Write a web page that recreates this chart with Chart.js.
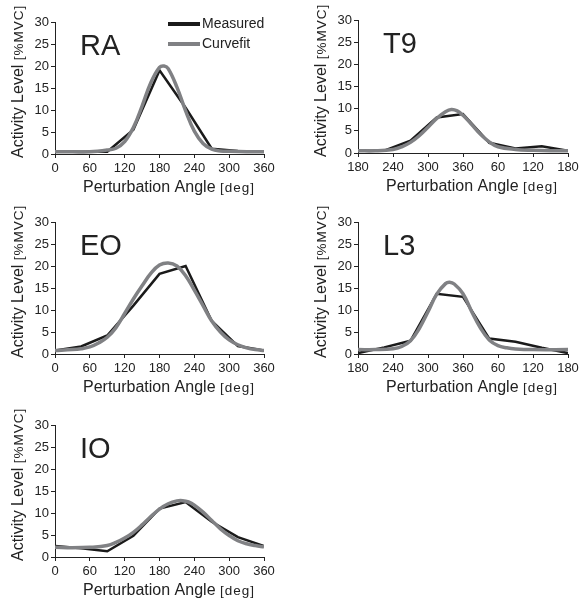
<!DOCTYPE html>
<html>
<head>
<meta charset="utf-8">
<script src="https://cdn.jsdelivr.net/npm/chart.js@4.4.1/dist/chart.umd.min.js"></script>
<style>
  body { margin: 0; background: #fff; }
  #wrap { position: relative; width: 582px; height: 604px; background: #fff; }
  canvas { position: absolute; }
</style>
</head>
<body>
<div id="wrap">
  <canvas id="ra" width="290" height="200" style="left:0;top:0"></canvas>
  <canvas id="t9" width="292" height="200" style="left:290px;top:0"></canvas>
  <canvas id="eo" width="290" height="200" style="left:0;top:200px"></canvas>
  <canvas id="l3" width="292" height="200" style="left:290px;top:200px"></canvas>
  <canvas id="io" width="290" height="204" style="left:0;top:400px"></canvas>
</div>
<script>
// measured points every 45 deg
const measuredAngles = [0, 45, 90, 135, 180, 225, 270, 315, 360];
const measuredAnglesBack = [180, 225, 270, 315, 360, 405, 450, 495, 540]; // back muscles, axis starts at 180

const raMeasured = [0.5, 0.5, 0.5, 5.5, 19, 10.5, 1.2, 0.7, 0.5];
const raFitAngles = [0, 30, 60, 90, 105, 120, 135, 150, 165, 180, 188, 195, 210, 225, 240, 255, 270, 285, 300, 330, 360];
const raFit = [0.5, 0.5, 0.5, 0.9, 1.3, 2.8, 6, 10.9, 16.2, 19.7, 20, 19.4, 15.2, 9.8, 5.2, 2.4, 1.1, 0.7, 0.6, 0.5, 0.5];

const t9Measured = [0.5, 0.5, 2.8, 8, 8.8, 2.3, 1, 1.5, 0.5];
const t9FitAngles = [180, 210, 240, 255, 270, 285, 300, 315, 330, 340, 350, 360, 375, 390, 405, 420, 450, 480, 510, 540];
const t9Fit = [0.5, 0.5, 0.8, 1.4, 2.4, 3.9, 5.8, 7.8, 9.3, 9.8, 9.5, 8.5, 6.4, 4.2, 2.5, 1.4, 0.8, 0.6, 0.5, 0.5];

const eoMeasured = [0.8, 1.7, 4.2, 11, 18.2, 20, 7.5, 1.8, 0.8];
const eoFitAngles = [0, 30, 45, 60, 75, 90, 105, 120, 135, 150, 165, 180, 195, 210, 225, 240, 255, 270, 285, 300, 315, 330, 345, 360];
const eoFit = [0.8, 1, 1.2, 1.6, 2.5, 3.8, 6, 9.2, 12.5, 15.5, 18.3, 20.2, 20.7, 20, 17.8, 14.5, 11, 7.5, 5, 3.2, 2.1, 1.4, 1, 0.8];

const l3Measured = [0.2, 1.5, 3, 13.7, 13, 3.5, 2.8, 1.4, 0.2];
const l3FitAngles = [180, 210, 240, 255, 270, 285, 300, 315, 330, 337, 345, 360, 375, 390, 405, 420, 435, 450, 480, 540];
const l3Fit = [1, 1, 1.2, 1.7, 3, 5.8, 9.6, 13.6, 16, 16.3, 15.9, 13.7, 9.6, 5.9, 3.2, 1.9, 1.4, 1.15, 1, 1];

const ioMeasured = [2.5, 2, 1.3, 4.8, 11, 12.5, 8, 4.5, 2.5];
const ioFitAngles = [0, 30, 60, 90, 105, 120, 135, 150, 165, 180, 195, 210, 220, 230, 240, 255, 270, 285, 300, 315, 330, 345, 360];
const ioFit = [2.2, 2.1, 2.2, 2.6, 3.3, 4.3, 5.6, 7.3, 9.2, 10.9, 12.1, 12.75, 12.8, 12.5, 11.8, 10.2, 8.3, 6.4, 4.9, 3.7, 3, 2.6, 2.3];

const yTicks = [0, 5, 10, 15, 20, 25, 30];

const FONT = 'Liberation Sans, Arial, Helvetica, sans-serif';
const BLACK = '#1a1a1a';
const GRAY = '#808184';

function pts(xs, ys) {
    return xs.map(function (x, i) { return { x: x, y: ys[i] }; });
}

// panel label, axis titles (mixed sizes) and legend
const textPlugin = {
    id: 'panelText',
    afterDraw: function (chart, args, opts) {
        const ctx = chart.ctx;
        const a = chart.chartArea;
        ctx.save();
        ctx.fillStyle = '#222';
        ctx.textBaseline = 'alphabetic';
        ctx.textAlign = 'left';

        // big muscle label
        ctx.font = '29px ' + FONT;
        ctx.fillText(opts.label, a.left + 25, a.top + 33);

        // x title
        let x = a.left + 28;
        const yb = a.bottom + 38;
        ctx.font = '16px ' + FONT;
        ctx.fillText('Perturbation Angle ', x, yb);
        x += ctx.measureText('Perturbation Angle ').width;
        ctx.font = '13.5px ' + FONT;
        ctx.letterSpacing = '1px';
        ctx.fillText('[deg]', x, yb);
        ctx.letterSpacing = '0px';

        // y title, rotated
        ctx.translate(a.left - 32, a.bottom + 4);
        ctx.rotate(-Math.PI / 2);
        ctx.font = '16px ' + FONT;
        ctx.fillText('Activity Level ', 0, 0);
        let w = ctx.measureText('Activity Level ').width;
        ctx.font = '13.5px ' + FONT;
        ctx.letterSpacing = '1px';
        ctx.fillText('[%MVC]', w, 0);
        ctx.letterSpacing = '0px';
        ctx.restore();

        if (opts.legend) {
            ctx.save();
            ctx.lineCap = 'butt';
            ctx.lineWidth = 4;
            ctx.strokeStyle = BLACK;
            ctx.beginPath(); ctx.moveTo(168, 24); ctx.lineTo(200, 24); ctx.stroke();
            ctx.strokeStyle = GRAY;
            ctx.beginPath(); ctx.moveTo(168, 44); ctx.lineTo(200, 44); ctx.stroke();
            ctx.fillStyle = '#222';
            ctx.font = '14px ' + FONT;
            ctx.textBaseline = 'middle';
            ctx.fillText('Measured', 202, 24);
            ctx.fillText('Curvefit', 202, 44);
            ctx.restore();
        }
    }
};

function makeChart(id, label, mAngles, measured, fAngles, fit, xmin, xmax, box, legend) {
    const target = document.getElementById(id);
    const config = {
        type: 'line',
        data: {
            datasets: [
                {
                    label: 'Curvefit',
                    data: pts(fAngles, fit),
                    borderColor: GRAY,
                    borderWidth: 3.5,
                    pointRadius: 0,
                    tension: 0.4,
                    fill: false,
                    order: 1
                },
                {
                    label: 'Measured',
                    data: pts(mAngles, measured),
                    borderColor: BLACK,
                    borderWidth: 2.5,
                    pointRadius: 0,
                    tension: 0,
                    fill: false,
                    order: 2
                }
            ]
        },
        options: {
            responsive: false,
            animation: false,
            devicePixelRatio: 1,
            layout: { padding: { left: 0, top: box.top, right: box.right, bottom: 0 } },
            plugins: {
                legend: { display: false },
                tooltip: { enabled: false },
                panelText: { label: label, legend: legend }
            },
            scales: {
                x: {
                    type: 'linear',
                    min: xmin,
                    max: xmax,
                    afterFit: function (s) { s.height = box.xh; },
                    afterBuildTicks: function (s) {
                        const t = [];
                        for (let v = xmin; v <= xmax; v += 60) t.push({ value: v });
                        s.ticks = t;
                    },
                    grid: { display: true, drawOnChartArea: false, drawTicks: true, tickLength: 4, color: '#222' },
                    border: { display: true, color: '#222', width: 1 },
                    ticks: {
                        padding: 3,
                        color: '#222',
                        font: { family: FONT, size: 13 },
                        maxRotation: 0,
                        autoSkip: false,
                        callback: function (v) { return v > 360 ? v - 360 : v; }
                    }
                },
                y: {
                    min: 0,
                    max: 30,
                    afterFit: function (s) { s.width = box.yw; },
                    afterBuildTicks: function (s) {
                        s.ticks = yTicks.map(function (v) { return { value: v }; });
                    },
                    grid: { display: true, drawOnChartArea: false, drawTicks: true, tickLength: 4, color: '#222' },
                    border: { display: true, color: '#222', width: 1 },
                    ticks: {
                        padding: 2,
                        color: '#222',
                        font: { family: FONT, size: 13 }
                    }
                }
            }
        },
        plugins: [textPlugin]
    };
    return new Chart(target, config);
}

makeChart('ra', 'RA', measuredAngles, raMeasured, raFitAngles, raFit, 0, 360, { yw: 55, top: 22, right: 26, xh: 46 }, true);
makeChart('t9', 'T9', measuredAnglesBack, t9Measured, t9FitAngles, t9Fit, 180, 540, { yw: 68, top: 20, right: 14, xh: 47 }, false);
makeChart('eo', 'EO', measuredAngles, eoMeasured, eoFitAngles, eoFit, 0, 360, { yw: 55, top: 22, right: 26, xh: 46 }, false);
makeChart('l3', 'L3', measuredAnglesBack, l3Measured, l3FitAngles, l3Fit, 180, 540, { yw: 68, top: 22, right: 14, xh: 46 }, false);
makeChart('io', 'IO', measuredAngles, ioMeasured, ioFitAngles, ioFit, 0, 360, { yw: 55, top: 25, right: 26, xh: 47 }, false);
</script>
</body>
</html>
